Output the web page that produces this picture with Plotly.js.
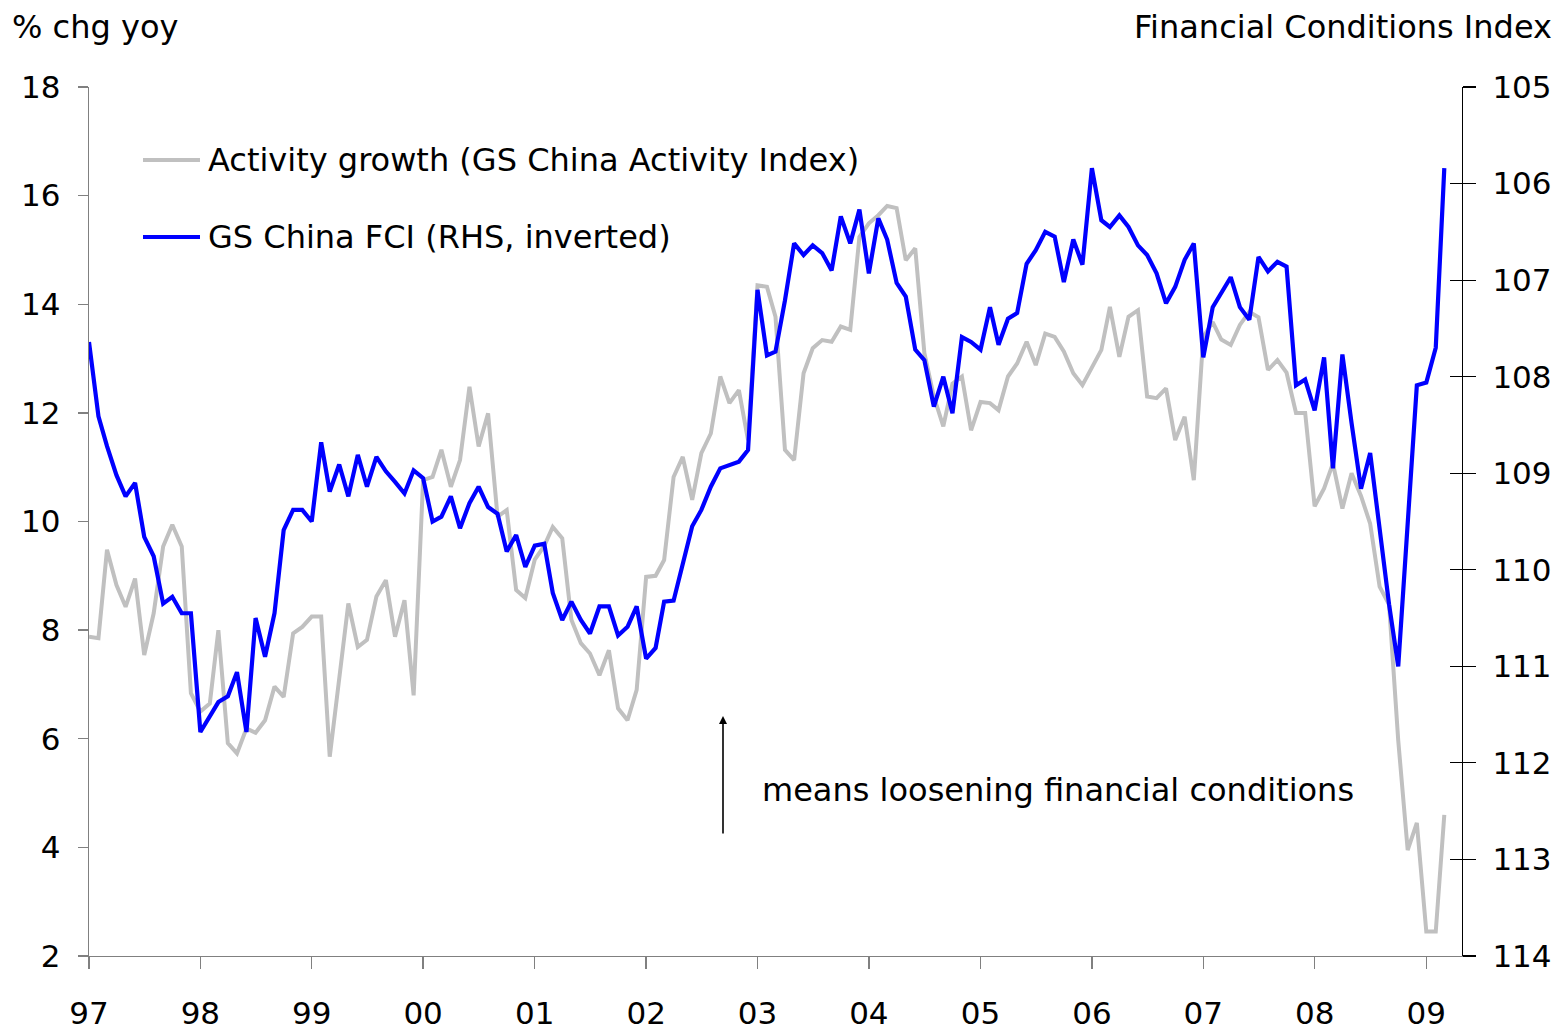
<!DOCTYPE html>
<html>
<head>
<meta charset="utf-8">
<script src="https://cdn.plot.ly/plotly-3.0.1.min.js"></script>
<style>html,body{margin:0;padding:0;background:#fff;}#chart{width:1562px;height:1029px;}</style>
</head>
<body>
<div id="chart"></div>
<script>
// Monthly data, Jan 1997 onwards
const startYear = 1997;
const activityGrowth = [
  7.88, 7.85, 9.48, 8.83, 8.43, 8.95, 7.54, 8.31, 9.54, 9.94, 9.54, 6.84,
  6.50, 6.65, 8.00, 5.92, 5.73, 6.19, 6.11, 6.34, 6.96, 6.77, 7.94, 8.06,
  8.25, 8.25, 5.67, 7.08, 8.49, 7.69, 7.82, 8.62, 8.92, 7.88, 8.55, 6.80,
  10.76, 10.82, 11.32, 10.64, 11.13, 12.48, 11.38, 11.99, 10.09, 10.21, 8.74, 8.59,
  9.30, 9.55, 9.90, 9.69, 8.19, 7.76, 7.57, 7.17, 7.63, 6.56, 6.34, 6.90,
  8.98, 9.00, 9.29, 10.82, 11.19, 10.40, 11.26, 11.62, 12.67, 12.18, 12.42, 11.50,
  14.35, 14.32, 13.77, 11.32, 11.13, 12.73, 13.19, 13.34, 13.31, 13.59, 13.53, 15.24,
  15.49, 15.64, 15.81, 15.77, 14.81, 15.03, 13.10, 12.30, 11.75, 12.54, 12.67, 11.68,
  12.20, 12.18, 12.05, 12.67, 12.91, 13.31, 12.88, 13.46, 13.40, 13.13, 12.73, 12.51,
  12.85, 13.16, 13.95, 13.03, 13.77, 13.89, 12.30, 12.27, 12.45, 11.50, 11.93, 10.76,
  13.40, 13.67, 13.35, 13.25, 13.62, 13.86, 13.76, 12.79, 12.97, 12.74, 12.00, 12.00,
  10.28, 10.61, 11.07, 10.24, 10.89, 10.47, 9.96, 8.80, 8.47, 5.97, 3.95, 4.45,
  2.45, 2.45, 4.60
];
const chinaFCI = [
  107.64, 108.41, 108.72, 109.02, 109.24, 109.10, 109.66, 109.86, 110.35, 110.28, 110.45, 110.45,
  111.68, 111.52, 111.37, 111.31, 111.06, 111.68, 110.50, 110.90, 110.45, 109.59, 109.38, 109.38,
  109.50, 108.68, 109.19, 108.91, 109.24, 108.81, 109.14, 108.83, 108.98, 109.09, 109.21, 108.97,
  109.05, 109.50, 109.45, 109.24, 109.57, 109.31, 109.14, 109.35, 109.42, 109.81, 109.64, 109.97,
  109.75, 109.73, 110.24, 110.52, 110.33, 110.52, 110.66, 110.38, 110.38, 110.68, 110.59, 110.38,
  110.92, 110.81, 110.33, 110.32, 109.93, 109.55, 109.38, 109.14, 108.95, 108.91, 108.88, 108.76,
  107.10, 107.78, 107.74, 107.21, 106.62, 106.74, 106.64, 106.72, 106.90, 106.34, 106.62, 106.27,
  106.93, 106.36, 106.58, 107.03, 107.17, 107.72, 107.83, 108.31, 108.00, 108.38, 107.59, 107.64,
  107.72, 107.28, 107.67, 107.40, 107.34, 106.83, 106.69, 106.50, 106.55, 107.02, 106.58, 106.84,
  105.84, 106.38, 106.45, 106.33, 106.45, 106.64, 106.74, 106.93, 107.24, 107.07, 106.79, 106.62,
  107.80, 107.28, 107.13, 106.97, 107.28, 107.41, 106.76, 106.91, 106.81, 106.86, 108.09, 108.03,
  108.35, 107.80, 108.95, 107.77, 108.48, 109.16, 108.79, 109.57, 110.36, 111.00, 109.52, 108.09,
  108.06, 107.70, 105.84
];
const yearTickLabels = ['97','98','99','00','01','02','03','04','05','06','07','08','09'];
const seriesNames = ['Activity growth (GS China Activity Index)', 'GS China FCI (RHS, inverted)'];
const seriesColors = ['#C0C0C0', '#0000FF'];

function monthDate(i) {
  const y = startYear + Math.floor(i / 12);
  const m = (i % 12) + 1;
  return y + '-' + (m < 10 ? '0' + m : m) + '-01';
}
const dates = activityGrowth.map((_, i) => monthDate(i));
const datesFCI = chinaFCI.map((_, i) => monthDate(i));
const yearTickVals = yearTickLabels.map((_, i) => (startYear + i) + '-01-01');
const rhsTicks = [105,106,107,108,109,110,111,112,113,114];
const lhsTicks = [2,4,6,8,10,12,14,16,18];

const FONT = 'DejaVu Sans, Liberation Sans, Arial, sans-serif';

const traces = [
  {
    x: dates, y: activityGrowth, name: seriesNames[0], type: 'scatter', mode: 'lines',
    line: {color: seriesColors[0], width: 4, shape: 'linear'}, yaxis: 'y', hoverinfo: 'x+y'
  },
  {
    x: datesFCI, y: chinaFCI, name: seriesNames[1], type: 'scatter', mode: 'lines',
    line: {color: seriesColors[1], width: 4.2, shape: 'linear'}, yaxis: 'y2', hoverinfo: 'x+y'
  },
  // empty helper trace so the inner-tick overlay axis is created
  {x: [], y: [], yaxis: 'y3', type: 'scatter', mode: 'lines', showlegend: false, hoverinfo: 'skip'}
];

const px = v => (v - 89) / 1373;        // pixel x -> paper
const py = v => (956 - v) / 869;        // pixel y -> paper

const layout = {
  width: 1562, height: 1029,
  margin: {l: 89, r: 100, t: 87, b: 73, pad: 0},
  paper_bgcolor: '#ffffff', plot_bgcolor: '#ffffff',
  showlegend: false,
  font: {family: FONT, size: 31, color: '#000'},
  xaxis: {
    type: 'date',
    range: ['1997-01-01', '2009-04-28'],
    tickvals: yearTickVals, ticktext: yearTickLabels,
    ticks: 'outside', ticklen: 12, tickwidth: 1.3, tickcolor: '#808080',
    showline: true, linecolor: '#808080', linewidth: 1.3,
    showgrid: false, zeroline: false,
    tickfont: {family: FONT, size: 31, color: '#000'},
    ticklabelstandoff: 17
  },
  yaxis: {
    range: [2, 18], tickvals: lhsTicks,
    ticks: 'outside', ticklen: 10, tickwidth: 1.3, tickcolor: '#808080',
    showline: true, linecolor: '#808080', linewidth: 1.3,
    showgrid: false, zeroline: false,
    tickfont: {family: FONT, size: 31, color: '#000'},
    ticklabelstandoff: 11
  },
  yaxis2: {
    overlaying: 'y', side: 'right', anchor: 'x',
    range: [114, 105], tickvals: rhsTicks,
    ticks: 'outside', ticklen: 13, tickwidth: 1.2, tickcolor: '#000',
    showline: true, linecolor: '#000', linewidth: 1.2,
    showgrid: false, zeroline: false,
    tickfont: {family: FONT, size: 31, color: '#000'},
    ticklabelstandoff: 10
  },
  yaxis3: {
    overlaying: 'y', side: 'right', anchor: 'x',
    range: [114, 105], tickvals: rhsTicks,
    ticks: 'inside', ticklen: 12, tickwidth: 1.2, tickcolor: '#000',
    showline: false, showticklabels: false,
    showgrid: false, zeroline: false
  },
  shapes: [
    {type: 'line', xref: 'paper', yref: 'paper', x0: px(143), x1: px(200), y0: py(160), y1: py(160),
     line: {color: seriesColors[0], width: 4}},
    {type: 'line', xref: 'paper', yref: 'paper', x0: px(143), x1: px(200), y0: py(237), y1: py(237),
     line: {color: seriesColors[1], width: 4}}
  ],
  annotations: [
    {text: '% chg yoy', xref: 'paper', yref: 'paper', x: px(10), y: py(27),
     xanchor: 'left', yanchor: 'middle', showarrow: false, font: {family: FONT, size: 32, color: '#000'}},
    {text: 'Financial Conditions Index', xref: 'paper', yref: 'paper', x: px(1554), y: py(27),
     xanchor: 'right', yanchor: 'middle', showarrow: false, font: {family: FONT, size: 32, color: '#000'}},
    {text: seriesNames[0], xref: 'paper', yref: 'paper', x: px(206), y: py(160),
     xanchor: 'left', yanchor: 'middle', showarrow: false, font: {family: FONT, size: 32, color: '#000'}},
    {text: seriesNames[1], xref: 'paper', yref: 'paper', x: px(206), y: py(237),
     xanchor: 'left', yanchor: 'middle', showarrow: false, font: {family: FONT, size: 32, color: '#000'}},
    {text: 'means loosening financial conditions', xref: 'paper', yref: 'paper', x: px(760), y: py(790),
     xanchor: 'left', yanchor: 'middle', showarrow: false, font: {family: FONT, size: 32, color: '#000'}},
    {text: '', xref: 'paper', yref: 'paper', x: px(723), y: py(716), ax: 0, ay: 119,
     showarrow: true, arrowhead: 2, arrowsize: 1, arrowwidth: 1.6, arrowcolor: '#000'}
  ]
};

Plotly.newPlot('chart', traces, layout, {staticPlot: true, displayModeBar: false});
</script>
</body>
</html>
